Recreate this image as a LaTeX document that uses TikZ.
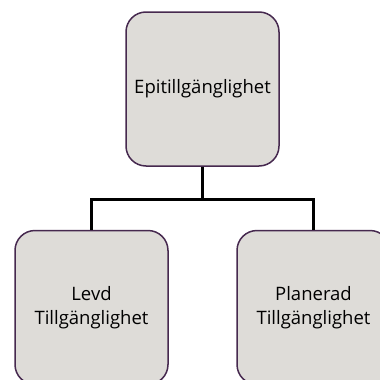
\documentclass[tikz,border=0pt]{standalone}
\usepackage{fontspec}
\setmainfont{Open Sans}
\definecolor{boxfill}{HTML}{DEDCD8}
\definecolor{boxedge}{HTML}{46294F}
\begin{document}
\begin{tikzpicture}[x=1pt,y=-1pt,
  box/.style={draw=boxedge, fill=boxfill, line width=1.5pt, rounded corners=20pt,
    minimum width=153pt, minimum height=154pt, align=center, inner sep=0pt,
    font=\fontsize{18.5}{24}\selectfont},
  conn/.style={line width=3pt, draw=black}]
\useasboundingbox (0,0) rectangle (380,380);
\clip (0,0) rectangle (380,380);
\node[box] (top) at (202.5,89) {Epitillgänglighet};
\node[box] (left) at (91.5,307.5) {Levd\\Tillgänglighet};
\node[box] (right) at (313.5,307.5) {Planerad\\Tillgänglighet};
\coordinate (j) at (202.5,199);
\draw[conn] (top.south) -- (j);
\draw[conn] (left.north) |- (j) -| (right.north);
\end{tikzpicture}
\end{document}
